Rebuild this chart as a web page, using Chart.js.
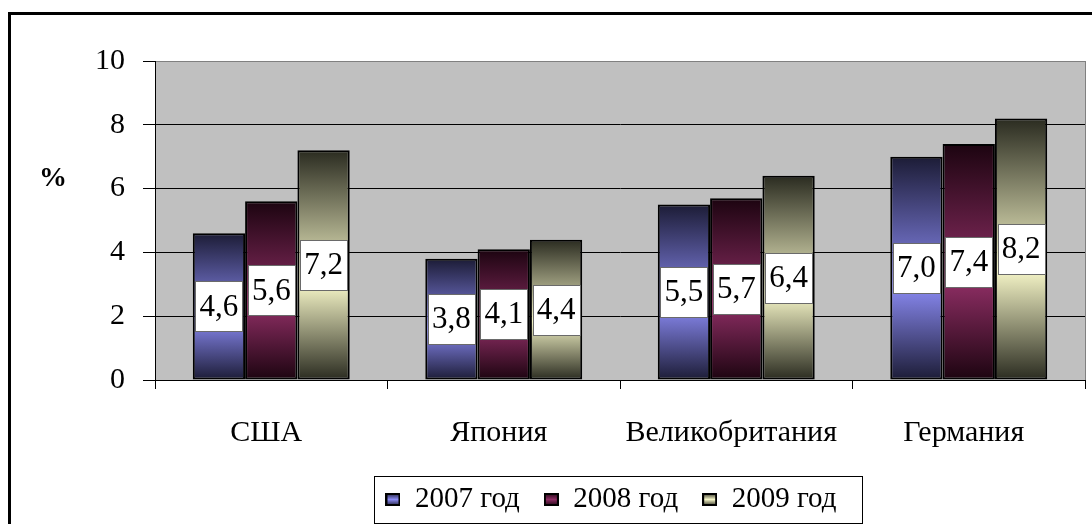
<!DOCTYPE html>
<html>
<head>
<meta charset="utf-8">
<script src="https://cdn.jsdelivr.net/npm/chart.js@4"></script>
<style>
  html, body { margin: 0; padding: 0; background: #fff; }
  #wrap { width: 1092px; height: 524px; }
</style>
</head>
<body>
<div id="wrap"><canvas id="growth"></canvas></div>
<script>
const countries = ['США', 'Япония', 'Великобритания', 'Германия'];
const years = ['2007 год', '2008 год', '2009 год'];
const values2007 = [4.6, 3.8, 5.5, 7.0];
const values2008 = [5.6, 4.1, 5.7, 7.4];
const values2009 = [7.2, 4.4, 6.4, 8.2];
const yTicks = [0, 2, 4, 6, 8, 10];

const serif = '"Liberation Serif", "Times New Roman", serif';
Chart.defaults.font.family = serif;
Chart.defaults.font.size = 30;
Chart.defaults.color = '#000';

// light colour in the middle, dark at the top and bottom of every bar
const shades = [
  { light: '#8a8af2', dark: '#1c1c36' },
  { light: '#8e2e64', dark: '#1c0410' },
  { light: '#f6f6c8', dark: '#2a2b20' }
];

function barFill(shade) {
  return function (c) {
    const y = c.chart.scales.y;
    if (c.type !== 'data' || !y) return shade.light;
    const top = y.getPixelForValue(c.raw);
    const base = y.getPixelForValue(0);
    const g = c.chart.ctx.createLinearGradient(0, top, 0, base);
    g.addColorStop(0, shade.dark);
    g.addColorStop(0.58, shade.light);
    g.addColorStop(1, shade.dark);
    return g;
  };
}

function legendSwatch(shade) {
  const cv = document.createElement('canvas');
  cv.width = 15; cv.height = 13;
  const x = cv.getContext('2d');
  const g = x.createLinearGradient(0, 0, 0, 13);
  g.addColorStop(0, shade.dark);
  g.addColorStop(0.5, shade.light);
  g.addColorStop(1, shade.dark);
  x.fillStyle = g;
  x.fillRect(0, 0, 15, 13);
  x.strokeStyle = '#000';
  x.lineWidth = 2;
  x.strokeRect(1, 1, 13, 11);
  return cv;
}

const swatches = shades.map(legendSwatch);

// outer frame and grey plot background
const frame = {
  id: 'frame',
  afterLayout(chart) {
    // legend sits a little left of the plot centre
    chart.legend.left -= 9;
    chart.legend.right -= 9;
  },
  beforeDraw(chart) {
    const ctx = chart.ctx, a = chart.chartArea;
    ctx.save();
    ctx.fillStyle = '#fff';
    ctx.fillRect(0, 0, chart.width, chart.height);
    ctx.strokeStyle = '#000';
    ctx.lineWidth = 3;
    ctx.strokeRect(9.5, 13.5, chart.width + 20, chart.height + 20);
    ctx.fillStyle = '#c0c0c0';
    ctx.fillRect(a.left, a.top, a.right - a.left, a.bottom - a.top);
    ctx.strokeStyle = '#808080';
    ctx.lineWidth = 1;
    ctx.strokeRect(a.left + 0.5, a.top + 0.5, a.right - a.left, a.bottom - a.top);
    ctx.restore();
  },
  afterDraw(chart) {
    const ctx = chart.ctx, a = chart.chartArea;
    ctx.save();
    // axis title
    ctx.font = 'bold 28px ' + serif;
    ctx.fillStyle = '#000';
    ctx.textAlign = 'center';
    ctx.textBaseline = 'middle';
    ctx.fillText('%', a.left - 102, chart.scales.y.getPixelForValue(6.3));
    // legend border
    const boxes = chart.legend.legendHitBoxes;
    if (boxes && boxes.length) {
      const first = boxes[0], last = boxes[boxes.length - 1];
      const l = first.left - 11, r = last.left + last.width + 26;
      const t = first.top - 9, b = first.top + first.height + 9;
      ctx.strokeStyle = '#000';
      ctx.lineWidth = 1;
      ctx.strokeRect(Math.round(l) + 0.5, Math.round(t) + 0.5, Math.round(r - l), Math.round(b - t));
    }
    ctx.restore();
  }
};

// value boxes in the middle of each bar
const valueBoxes = {
  id: 'valueBoxes',
  afterDatasetsDraw(chart) {
    const ctx = chart.ctx;
    ctx.save();
    ctx.font = '31px ' + serif;
    ctx.textAlign = 'center';
    ctx.textBaseline = 'middle';
    chart.data.datasets.forEach((ds, i) => {
      chart.getDatasetMeta(i).data.forEach((bar, j) => {
        const text = ds.data[j].toFixed(1).replace('.', ',');
        const w = Math.round(ctx.measureText(text).width + 8);
        const h = 50;
        const cy = (bar.y + bar.base) / 2;
        const l = Math.round(bar.x - w / 2), t = Math.round(cy - h / 2);
        ctx.fillStyle = '#fff';
        ctx.fillRect(l, t, w, h);
        ctx.strokeStyle = '#6a6a6a';
        ctx.lineWidth = 1;
        ctx.strokeRect(l + 0.5, t + 0.5, w, h);
        ctx.fillStyle = '#000';
        ctx.fillText(text, bar.x, cy + 1);
      });
    });
    ctx.restore();
  }
};

const seriesValues = [values2007, values2008, values2009];

new Chart(document.getElementById('growth'), {
  type: 'bar',
  data: {
    labels: countries,
    datasets: years.map((label, i) => ({
      label: label,
      data: seriesValues[i],
      backgroundColor: barFill(shades[i]),
      borderColor: '#000',
      borderWidth: 2,
      borderSkipped: false,
      categoryPercentage: 0.675,
      barPercentage: 1
    }))
  },
  options: {
    responsive: true,
    maintainAspectRatio: false,
    animation: false,
    events: [],
    layout: { padding: { left: 95, top: 61, right: 7, bottom: 0 } },
    plugins: {
      tooltip: { enabled: false },
      legend: {
        position: 'bottom',
        fullSize: false,
        labels: {
          usePointStyle: true,
          boxWidth: 15,
          padding: 24,
          font: { size: 29 },
          generateLabels: (chart) => chart.data.datasets.map((ds, i) => ({
            text: ds.label,
            pointStyle: swatches[i],
            fillStyle: shades[i].light,
            strokeStyle: '#000',
            lineWidth: 0,
            datasetIndex: i
          }))
        }
      }
    },
    scales: {
      x: {
        border: { color: '#000', width: 1 },
        grid: { offset: true, drawOnChartArea: false, tickLength: 9, color: '#000' },
        ticks: { padding: 26, labelOffset: -5, font: { size: 30 } },
        afterFit: (s) => { s.height = 81; }
      },
      y: {
        min: 0,
        max: 10,
        border: { color: '#000', width: 1 },
        grid: {
          color: (c) => (c.tick && c.tick.value === 10 ? '#808080' : '#000'),
          tickColor: '#000',
          tickLength: 12
        },
        afterBuildTicks: (s) => { s.ticks = yTicks.map((v) => ({ value: v })); },
        ticks: { padding: 18, font: { size: 30 } },
        afterFit: (s) => { s.width = 60; }
      }
    }
  },
  plugins: [frame, valueBoxes]
});
</script>
</body>
</html>
